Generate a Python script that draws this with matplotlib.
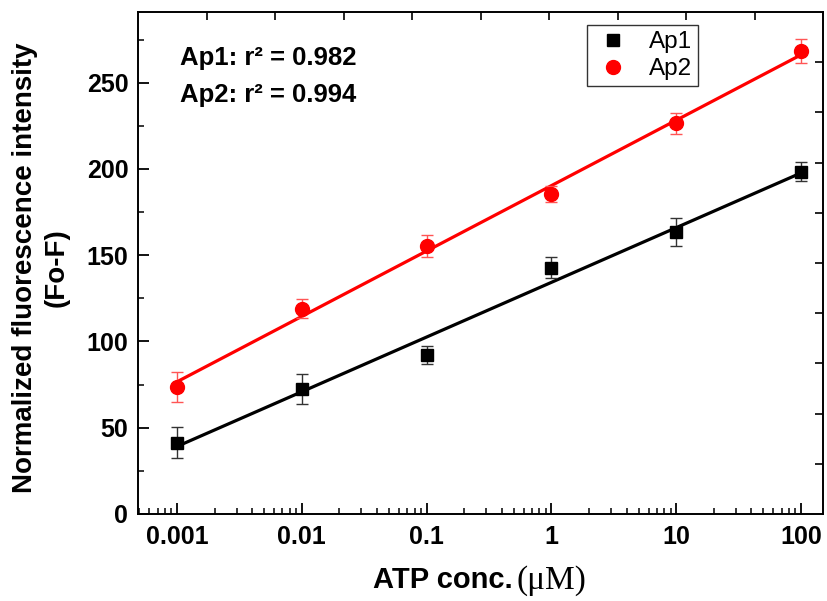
import numpy as np
import matplotlib
matplotlib.use("Agg")
import matplotlib.pyplot as plt
from matplotlib.ticker import LogLocator, MultipleLocator, FixedLocator, NullFormatter

plt.rcParams["font.family"] = ["Liberation Sans", "DejaVu Sans"]

# ATP titration, normalized fluorescence (Fo-F), mean ± error
atp_conc = [0.001, 0.01, 0.1, 1, 10, 100]
ap1_mean = [41.2, 72.5, 92.2, 142.7, 163.6, 198.4]
ap1_err = [9.0, 8.5, 5.0, 6.0, 8.0, 5.5]
ap2_mean = [73.7, 118.9, 155.4, 185.5, 226.5, 268.5]
ap2_err = [8.5, 5.5, 6.5, 4.5, 6.0, 7.0]
r2_labels = ["Ap1: r² = 0.982", "Ap2: r² = 0.994"]
x_ticks = [0.001, 0.01, 0.1, 1, 10, 100]
x_ticklabels = ["0.001", "0.01", "0.1", "1", "10", "100"]
y_ticks = [0, 50, 100, 150, 200, 250]

fig = plt.figure(figsize=(8.28, 6.01), dpi=100)
ax = fig.add_axes([0.1667, 0.1448, 0.8273, 0.8352])

logx = np.log10(atp_conc)
x_fit = np.logspace(logx.min(), logx.max(), 100)

series = [
    (ap1_mean, ap1_err, "black", "#333333", "s", 9, "Ap1"),
    (ap2_mean, ap2_err, "#ff0000", "#ff5555", "o", 10, "Ap2"),
]
for mean, err, col, ecol, mk, ms, lab in series:
    slope, icpt = np.polyfit(logx, mean, 1)
    ax.plot(x_fit, slope * np.log10(x_fit) + icpt, color=col, lw=2.3, zorder=2)
    ax.errorbar(atp_conc, mean, yerr=err, fmt="none", ecolor=ecol,
                elinewidth=1.0, capsize=4, capthick=1.0, zorder=3)
    ax.plot(atp_conc, mean, linestyle="none", marker=mk, markersize=ms,
            color=col, label=lab, zorder=4)

ax.set_xscale("log")
ax.set_xlim(0.000487, 150)
ax.set_ylim(0, 291)
ax.set_xticks(x_ticks)
ax.set_xticklabels(x_ticklabels)
ax.xaxis.set_minor_locator(LogLocator(base=10, subs=np.arange(2, 10), numticks=20))
ax.xaxis.set_minor_formatter(NullFormatter())
ax.set_yticks(y_ticks)
ax.yaxis.set_minor_locator(MultipleLocator(25))

for lab in ax.get_xticklabels() + ax.get_yticklabels():
    lab.set_fontweight("bold")
ax.tick_params(which="major", direction="in", length=8, width=1.3,
               labelsize=18, top=False, right=False)
ax.tick_params(axis="x", which="major", pad=8)
ax.tick_params(axis="y", which="major", pad=7)
ax.tick_params(which="minor", direction="in", length=4.5, width=1.1,
               top=False, right=False)
for sp in ax.spines.values():
    sp.set_linewidth(1.4)

# plain linear ticks along the top and right frame
top = ax.twiny()
top.set_xlim(0, 10)
top.xaxis.set_major_locator(FixedLocator(np.arange(1, 10)))
top.tick_params(axis="x", direction="in", length=6, width=1.2, labeltop=False)
right = ax.twinx()
right.set_ylim(0, 10)
right.yaxis.set_major_locator(FixedLocator(np.arange(1, 10)))
right.tick_params(axis="y", direction="in", length=6, width=1.2, labelright=False)
for extra in (top, right):
    for sp in extra.spines.values():
        sp.set_visible(False)

ax.text(0.061, 0.908, r2_labels[0], transform=ax.transAxes, fontsize=18.5,
        fontweight="bold", va="center", ha="left")
ax.text(0.061, 0.835, r2_labels[1], transform=ax.transAxes, fontsize=18.5,
        fontweight="bold", va="center", ha="left")

leg = ax.legend(loc="upper left", bbox_to_anchor=(0.709, 0.958),
                bbox_transform=fig.transFigure, borderaxespad=0,
                fontsize=17.5, frameon=True, fancybox=False, handletextpad=0.7,
                borderpad=0.25, labelspacing=0.2, handlelength=1.6)
leg.get_frame().set_edgecolor("black")
leg.get_frame().set_linewidth(1.0)

fig.text(513 / 828, 0.021, "ATP conc.", ha="right", va="baseline",
         fontsize=21, fontweight="bold")
fig.text(517 / 828, 0.021, "(μM)", ha="left", va="baseline",
         fontsize=24, family=["Liberation Serif", "DejaVu Serif"])
fig.text(0.0495, 0.554, "Normalized fluorescence intensity\n(Fo-F)",
         rotation=90, ha="center", va="center", multialignment="center",
         fontsize=20, fontweight="bold", linespacing=1.3)

fig.savefig("out.png", dpi=100)
